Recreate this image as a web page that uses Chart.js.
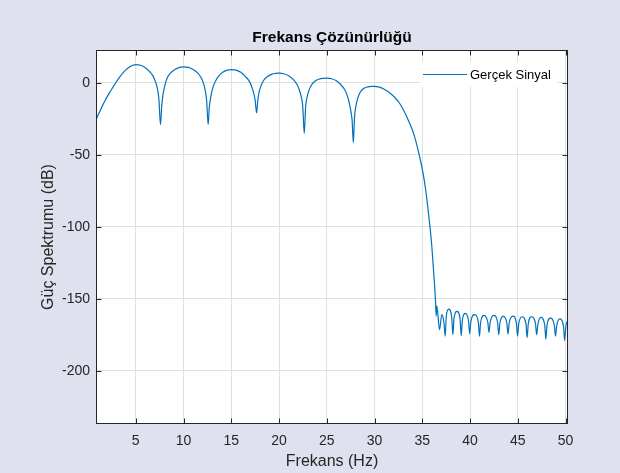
<!DOCTYPE html>
<html>
<head>
<meta charset="utf-8">
<script src="https://cdn.jsdelivr.net/npm/chart.js@4.4.1/dist/chart.umd.min.js"></script>
<style>
  html, body { margin: 0; padding: 0; background: #dfe1ee; }
  canvas { display: block; }
</style>
</head>
<body>
<canvas id="spectrum" width="620" height="473"></canvas>
<script>
// Güç spektrumu - ana loblar (Hz, dB)
const lobeFreq = [
  0.84, 1.2, 1.54, 1.9, 2.24, 2.6, 2.94, 3.3, 3.64, 4.0, 4.34, 4.7,
  5.0, 5.5, 6.0, 6.5, 6.8, 7.05, 7.25, 7.42, 7.59,
  7.72, 7.88, 8.08, 8.3, 8.6, 9.1, 9.6, 10.0, 10.5, 11.0, 11.5, 11.8, 12.05, 12.25, 12.42, 12.58,
  12.7, 12.82, 12.97, 13.15, 13.4, 13.7, 14.1, 14.6, 15.03, 15.5, 16.0, 16.5, 16.85, 17.1, 17.3, 17.5, 17.65,
  17.78, 17.95, 18.15, 18.4, 18.75, 19.25, 19.6, 20.0, 20.5, 21.0, 21.5, 21.85, 22.1, 22.3, 22.48, 22.64,
  22.78, 22.95, 23.15, 23.4, 23.75, 24.25, 24.6, 25.0, 25.5, 26.0, 26.5, 26.85, 27.1, 27.3, 27.5, 27.65, 27.78,
  27.9, 28.05, 28.25, 28.5, 28.85, 29.3, 29.7, 30.0, 30.5, 31.0, 31.6, 32.1, 32.6, 33.0, 33.5,
  34.0, 34.3, 34.67, 35.0, 35.3, 35.55, 35.8, 36.0, 36.17, 36.3, 36.37, 36.45
];
const lobeDb = [
  -25.5, -20.5, -15.5, -11, -7, -3.2, 0.4, 3.8, 6.8, 9.2, 11.0, 12.2,
  12.7, 12.2, 10.5, 7.5, 4.8, 1.0, -3.5, -11, -29,
  -16, -7, -1, 3.5, 6.5, 9.2, 10.7, 11.1, 10.7, 9.3, 6.7, 4.0, 0.5, -4.5, -12, -29,
  -17, -11.5, -6, -1.8, 1.8, 4.8, 7.3, 8.8, 9.2, 8.8, 7.3, 4.3, 1.5, -2, -6, -12, -20.9,
  -12, -5.5, -1.5, 1.8, 4.2, 6.0, 6.5, 6.7, 6.3, 4.9, 2.2, -0.8, -4.5, -9, -16, -35.2,
  -17, -9.5, -5, -1.5, 1.1, 2.7, 3.1, 3.2, 2.8, 1.4, -1.5, -4.5, -8, -12.5, -19, -26, -41.7,
  -24, -16, -10.5, -6.5, -4, -2.8, -2.4, -2.4, -3, -4.5, -7, -10, -14, -18.5, -25.5,
  -33.5, -40, -50, -60, -72, -85, -100, -114, -130, -142, -150, -162
];

// Gürültü tabanı (Hz, dB)
const floorFreq = [
  36.52, 36.8, 37.04, 37.27, 37.39, 37.51, 37.76, 38.08, 38.2, 38.32, 38.63, 38.95, 39.07,
  39.19, 39.5, 39.84, 39.96, 40.08, 40.45, 40.86, 40.98, 41.1, 41.45, 41.86, 41.98,
  42.1, 42.47, 42.88, 43.0, 43.12, 43.48, 43.85, 43.97, 44.09, 44.47, 44.85, 44.97,
  45.09, 45.43, 45.85, 45.97, 46.09, 46.42, 46.85, 46.97, 47.09, 47.4, 47.81, 47.93,
  48.05, 48.4, 48.82, 48.94, 49.06, 49.38, 49.78, 49.9, 50.02, 50.25
];
const floorDb = [
  -155, -171.5, -161, -167, -176, -162, -157.2, -163, -175, -163.5, -158.8, -164, -175.7,
  -165, -160.2, -165.5, -174.3, -166, -161, -166, -176, -166.5, -161.5, -166.5, -173.5,
  -166.5, -161.5, -166.5, -175, -167, -162, -167, -174.5, -167, -162, -167, -176,
  -167.5, -162.5, -167.5, -177, -167.5, -162.5, -167.5, -175, -168, -163, -168, -178,
  -168.5, -163.5, -168.5, -176, -169, -164, -169, -179, -169.5, -164.5
];

const xTicks = [5, 10, 15, 20, 25, 30, 35, 40, 45, 50];
const yTicks = [-200, -150, -100, -50, 0];

const chartTitle = 'Frekans Çözünürlüğü';
const xLabel = 'Frekans (Hz)';
const yLabel = 'Güç Spektrumu (dB)';
const seriesName = 'Gerçek Sinyal';

const X_MIN = 0.84, X_MAX = 50.25;
const Y_MIN = -237, Y_MAX = 22.8;

const LINE_COLOR = '#0072bd';
const AXIS_COLOR = '#262626';
const FIG_BG = '#dfe1ee';
const FONT = "'Liberation Sans', Arial, sans-serif";

const points = lobeFreq.map((f, i) => ({ x: f, y: lobeDb[i] }))
  .concat(floorFreq.map((f, i) => ({ x: f, y: floorDb[i] })));

// MATLAB tarzı çerçeve, tikler, yazılar ve gösterge
const matlabFrame = {
  id: 'matlabFrame',
  beforeDraw(chart) {
    const { ctx, chartArea: a } = chart;
    ctx.save();
    ctx.fillStyle = FIG_BG;
    ctx.fillRect(0, 0, chart.width, chart.height);
    ctx.fillStyle = '#ffffff';
    ctx.fillRect(a.left, a.top, a.right - a.left, a.bottom - a.top);
    ctx.restore();
  },
  afterDraw(chart) {
    const { ctx, chartArea: a, scales: { x, y } } = chart;
    const L = Math.round(a.left) + 0.5, R = Math.round(a.right) - 0.5;
    const T = Math.round(a.top) + 0.5, B = Math.round(a.bottom) - 0.5;
    const tickLen = 5;
    ctx.save();

    // gösterge kutusu
    ctx.fillStyle = '#ffffff';
    ctx.fillRect(420, 62, 137, 25);
    ctx.strokeStyle = LINE_COLOR;
    ctx.lineWidth = 1.2;
    ctx.beginPath();
    ctx.moveTo(423, 74.5);
    ctx.lineTo(467, 74.5);
    ctx.stroke();
    ctx.fillStyle = '#000000';
    ctx.font = '13px ' + FONT;
    ctx.textAlign = 'left';
    ctx.textBaseline = 'middle';
    ctx.fillText(seriesName, 470, 75);

    // kutu
    ctx.strokeStyle = AXIS_COLOR;
    ctx.lineWidth = 1;
    ctx.strokeRect(L, T, R - L, B - T);

    // içe dönük tikler
    ctx.beginPath();
    xTicks.forEach(v => {
      const px = Math.round(x.getPixelForValue(v)) + 0.5;
      ctx.moveTo(px, B); ctx.lineTo(px, B - tickLen);
      ctx.moveTo(px, T); ctx.lineTo(px, T + tickLen);
    });
    yTicks.forEach(v => {
      const py = Math.round(y.getPixelForValue(v)) + 0.5;
      ctx.moveTo(L, py); ctx.lineTo(L + tickLen, py);
      ctx.moveTo(R, py); ctx.lineTo(R - tickLen, py);
    });
    ctx.stroke();

    // tik etiketleri
    ctx.fillStyle = AXIS_COLOR;
    ctx.font = '14px ' + FONT;
    ctx.textAlign = 'center';
    ctx.textBaseline = 'alphabetic';
    xTicks.forEach(v => ctx.fillText(String(v), x.getPixelForValue(v), 445));
    ctx.textAlign = 'right';
    ctx.textBaseline = 'middle';
    yTicks.forEach(v => ctx.fillText(String(v), 90, y.getPixelForValue(v) + 0.5));

    // eksen başlıkları
    ctx.font = '16px ' + FONT;
    ctx.textAlign = 'center';
    ctx.textBaseline = 'alphabetic';
    ctx.fillText(xLabel, (a.left + a.right) / 2, 466);
    ctx.save();
    ctx.translate(53, (a.top + a.bottom) / 2);
    ctx.rotate(-Math.PI / 2);
    ctx.fillText(yLabel, 0, 0);
    ctx.restore();

    // başlık
    ctx.fillStyle = '#000000';
    ctx.font = 'bold 15.5px ' + FONT;
    ctx.fillText(chartTitle, (a.left + a.right) / 2, 42);

    ctx.restore();
  }
};

new Chart(document.getElementById('spectrum'), {
  type: 'line',
  data: {
    datasets: [{
      label: seriesName,
      data: points,
      borderColor: LINE_COLOR,
      borderWidth: 1.2,
      pointRadius: 0,
      fill: false,
      cubicInterpolationMode: 'monotone'
    }]
  },
  plugins: [matlabFrame],
  options: {
    responsive: false,
    animation: false,
    layout: { padding: { left: 96, right: 52, top: 50, bottom: 49 } },
    plugins: {
      legend: { display: false },
      tooltip: { enabled: false }
    },
    scales: {
      x: {
        type: 'linear',
        min: X_MIN,
        max: X_MAX,
        afterBuildTicks: s => { s.ticks = xTicks.map(v => ({ value: v })); },
        afterFit: s => { s.height = 0; },
        ticks: { display: false },
        border: { display: false },
        grid: { color: '#e0e0e0', drawTicks: false }
      },
      y: {
        type: 'linear',
        min: Y_MIN,
        max: Y_MAX,
        afterBuildTicks: s => { s.ticks = yTicks.map(v => ({ value: v })); },
        afterFit: s => { s.width = 0; },
        ticks: { display: false },
        border: { display: false },
        grid: { color: '#e0e0e0', drawTicks: false }
      }
    }
  }
});
</script>
</body>
</html>
